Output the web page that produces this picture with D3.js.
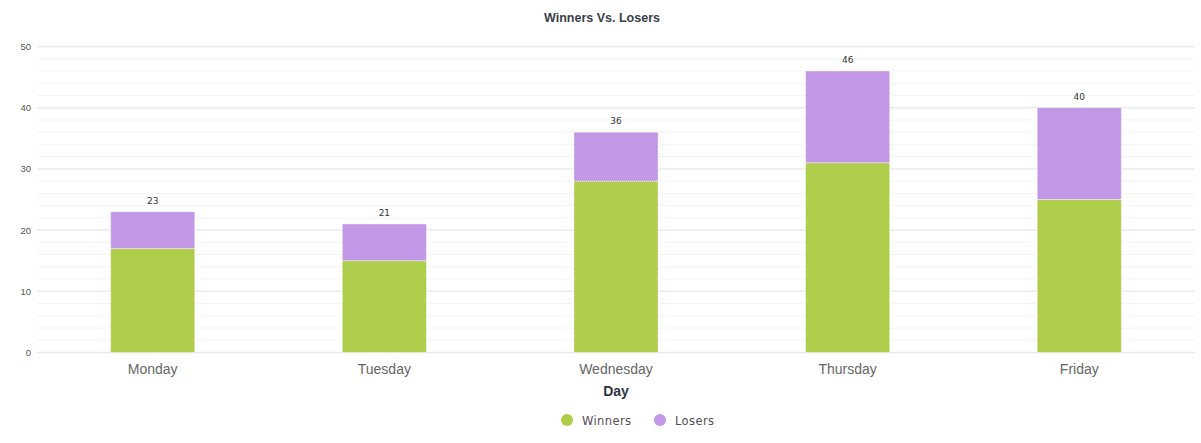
<!DOCTYPE html>
<html><head><meta charset="utf-8">
<script src="https://cdn.jsdelivr.net/npm/d3@7"></script>
<style>body{margin:0;background:#fff;font-family:"Liberation Sans",Arial,sans-serif}</style>
</head><body><svg id="c" width="1201" height="443"></svg>
<script>
const categories = ["Monday","Tuesday","Wednesday","Thursday","Friday"];
const winners = [17,15,28,31,25];
const losers = [6,6,8,15,15];
const seriesNames = ["Winners","Losers"];
const seriesColors = ["#aecd4b","#c298e6"];
const yTicks = [0,10,20,30,40,50];

const svg = d3.select("#c");
const m = {l:37, r:1195, t:46.5, b:352.5};
const x = d3.scaleBand().domain(categories).range([m.l, m.r]).paddingInner(0.637).paddingOuter(0.318);
const y = d3.scaleLinear().domain([0,50]).range([m.b, m.t]);

// minor grid
svg.append("g").selectAll("line").data(d3.range(0,51,2).filter(v=>v%10!==0)).join("line")
  .attr("x1",m.l).attr("x2",m.r).attr("y1",d=>y(d)).attr("y2",d=>y(d))
  .attr("stroke","#f4f4f4").attr("stroke-width",1);
// major grid
svg.append("g").selectAll("line").data(yTicks).join("line")
  .attr("x1",m.l).attr("x2",m.r).attr("y1",d=>y(d)).attr("y2",d=>y(d))
  .attr("stroke","#ebebeb").attr("stroke-width",1.5);

// y axis labels
const ya = svg.append("g").attr("transform",`translate(${m.l-6},0)`)
  .call(d3.axisLeft(y).tickValues(yTicks).tickSize(0).tickPadding(0));
ya.select(".domain").remove();
ya.selectAll("text").attr("fill","#555").style("font-size","9.5px").style("font-family","Liberation Sans, Arial, sans-serif");

const stack = d3.stack().keys([0,1]).value((d,k)=>k===0?d.w:d.l);
const rows = categories.map((c,i)=>({c, w:winners[i], l:losers[i]}));
const layers = stack(rows);
svg.append("g").selectAll("g").data(layers).join("g")
  .attr("fill",(d,i)=>seriesColors[i])
  .selectAll("rect").data(d=>d).join("rect")
  .attr("x",d=>x(d.data.c)).attr("width",x.bandwidth())
  .attr("y",d=>y(d[1])).attr("height",d=>y(d[0])-y(d[1]))
  .attr("stroke","#ffffff").attr("stroke-width",0.8).attr("stroke-dasharray","1,1");

// totals
svg.append("g").selectAll("text").data(rows).join("text")
  .attr("x",d=>x(d.c)+x.bandwidth()/2).attr("y",d=>y(d.w+d.l)-8)
  .attr("text-anchor","middle").attr("fill","#333").style("font-size","10px")
  .style("font-family","DejaVu Sans, Verdana, sans-serif").style("font-size","9px")
  .text(d=>d.w+d.l);

// x axis
const xa = svg.append("g").attr("transform",`translate(0,${m.b+12})`)
  .call(d3.axisBottom(x).tickSize(0).tickPadding(0));
xa.select(".domain").remove();
xa.selectAll("text").attr("fill","#666").style("font-size","14px").style("font-family","Liberation Sans, Arial, sans-serif").attr("dy","0.71em");

svg.append("text").attr("x",(m.l+m.r)/2).attr("y",396).attr("text-anchor","middle")
  .attr("fill","#2f3542").style("font-size","14px").style("font-weight","bold").text("Day");

svg.append("text").attr("x",602).attr("y",22).attr("text-anchor","middle")
  .attr("fill","#3a3f4b").style("font-size","12.5px").style("font-weight","bold").text("Winners Vs. Losers");

// legend
const lg = svg.append("g");
const lx = [567,660];
seriesNames.forEach((n,i)=>{
  lg.append("circle").attr("cx",lx[i]).attr("cy",420).attr("r",6).attr("fill",seriesColors[i]);
  lg.append("text").attr("x",lx[i]+15).attr("y",424.5).attr("fill","#574c57")
    .style("font-family","DejaVu Sans, Verdana, sans-serif")
    .style("font-size","11.5px").style("letter-spacing","0.4px").text(n);
});
</script></body></html>
